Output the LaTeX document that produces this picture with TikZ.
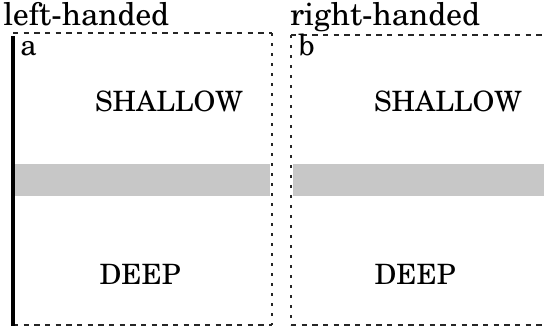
\documentclass[tikz,border=0pt]{standalone}
\usepackage[T1]{fontenc}
\usepackage{newcent}
\begin{document}
\begin{tikzpicture}[x=0.75pt,y=-0.75pt,
  hdash/.style={draw=black!85,line width=0.8pt,dash pattern=on 4pt off 4pt},
  vdash/.style={draw=black!85,line width=0.8pt,dash pattern=on 2.5pt off 5pt},
  band/.style={fill=black!22,draw=none},
  head/.style={font=\fontsize{23.5}{26}\selectfont,anchor=base west,inner sep=0pt},
  tag/.style={font=\fontsize{22}{26}\selectfont,anchor=base west,inner sep=0pt},
  zone/.style={font=\fontsize{21}{24}\selectfont,inner sep=0pt}]
\useasboundingbox (0,0) rectangle (544,329);
% panel corners
\coordinate (aTL) at (13,33);
\coordinate (aTR) at (272,33);
\coordinate (aBR) at (272,325);
\coordinate (aBL) at (13,325);
\coordinate (bTL) at (291,35);
\coordinate (bTR) at (542,35);
\coordinate (bBR) at (542,325);
\coordinate (bBL) at (291,325);
% shaded layer
\fill[band] (15,164) rectangle (270,196);
\fill[band] (293,164) rectangle (544,196);
% panel a
\draw[hdash] (aTL) -- (aTR);
\draw[hdash] (aBL) -- (aBR);
\draw[vdash] (aTR) -- (aBR);
\draw[line width=2.6pt] (13,36) -- (13,326);
% panel b
\draw[hdash] (bTL) -- (bTR);
\draw[hdash] (bBL) -- (bBR);
\draw[vdash] (bTL) -- (bBL);
% labels
\node[head] (lh) at (3,25) {left-handed};
\node[head] (rh) at (290,25) {right-handed};
\node[tag] (ta) at (20,55) {a};
\node[tag] (tb) at (298,55) {b};
\node[zone] (sa) at (169,101) {SHALLOW};
\node[zone] (sb) at (448,101) {SHALLOW};
\node[zone] (da) at (140,274) {DEEP};
\node[zone] (db) at (415,274) {DEEP};
\end{tikzpicture}
\end{document}
